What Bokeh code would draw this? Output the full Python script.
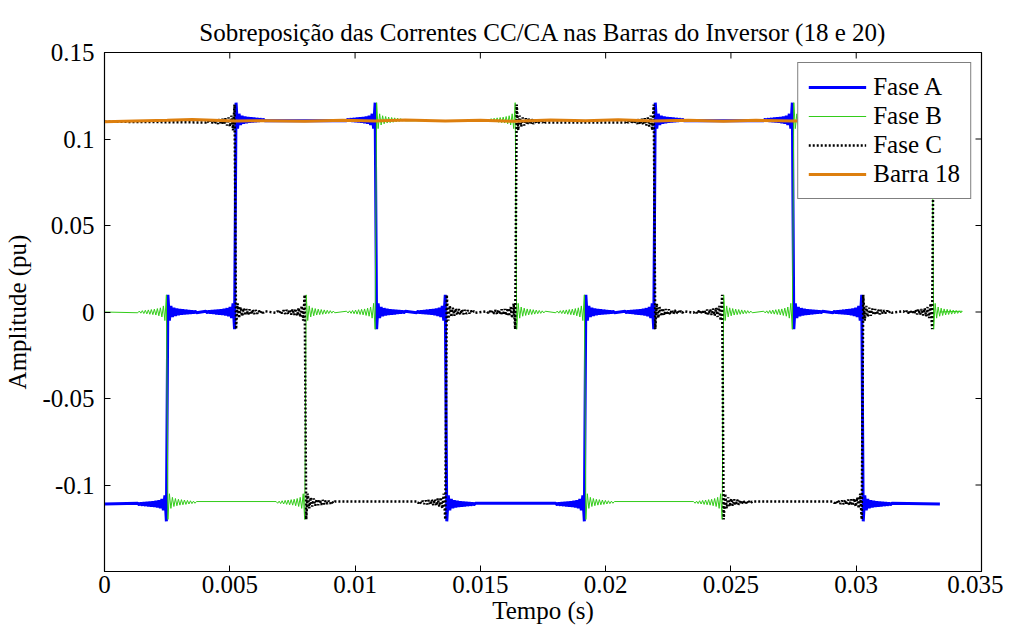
import math
from bokeh.plotting import figure
from bokeh.models import FixedTicker, Range1d, Legend, LegendItem
from bokeh.embed import file_html
from bokeh.resources import INLINE

# ---------------- data ----------------
title_text = "Sobreposição das Correntes CC/CA nas Barras do Inversor (18 e 20)"
x_label = "Tempo (s)"
y_label = "Amplitude (pu)"

x_ticks = [0, 0.005, 0.01, 0.015, 0.02, 0.025, 0.03, 0.035]
x_tick_labels = ["0", "0.005", "0.01", "0.015", "0.02", "0.025", "0.03", "0.035"]
y_ticks = [-0.1, -0.05, 0, 0.05, 0.1, 0.15]
y_tick_labels = ["-0.1", "-0.05", "0", "0.05", "0.1", "0.15"]

# commutation instants (s) and end of record
t_switch = [0.00250, 0.00522, 0.00802, 0.01083, 0.01363, 0.01642,
            0.01918, 0.02195, 0.02468, 0.02748, 0.03025, 0.03306]
t_end = 0.03334

# current level of each phase between commutations (pu)
fase_a = [-0.111, 0.0, 0.111, 0.111, 0.0, -0.111, -0.111, 0.0, 0.111, 0.111, 0.0, -0.111, -0.111]
fase_b = [0.0, -0.110, -0.110, 0.0, 0.111, 0.111, 0.0, -0.110, -0.110, 0.0, 0.111, 0.111, 0.0]
fase_c = [0.110, 0.110, 0.0, -0.110, -0.110, 0.0, 0.110, 0.110, 0.0, -0.110, -0.110, 0.0, 0.110]

# ringing around each step (fraction of the step), half-period spacing
ring_frac = [0.09, -0.045, 0.032, -0.026, 0.022, -0.020, 0.018, -0.016, 0.015, -0.014,
             0.013, -0.012, 0.011, -0.010, 0.009, -0.008, 0.007, -0.006, 0.005, -0.004]
ring_dt = 0.00006

# DC current at bus 18
barra18_t = [0, 0.0012, 0.0025, 0.0035, 0.0052, 0.0065, 0.0080, 0.0095, 0.0108, 0.0120,
             0.0136, 0.0150, 0.0164, 0.0178, 0.0192, 0.0205, 0.0219, 0.0233, 0.0247, 0.0260,
             0.0275, 0.0290, 0.0303, 0.0318, 0.0333]
barra18_v = [0.1100, 0.1104, 0.1108, 0.1112, 0.1104, 0.1106, 0.1102, 0.1108, 0.1104, 0.1110,
             0.1104, 0.1108, 0.1102, 0.1110, 0.1106, 0.1111, 0.1104, 0.1108, 0.1102, 0.1108,
             0.1104, 0.1108, 0.1104, 0.1108, 0.1104]

FONT = "Liberation Serif"
FS = "25px"
X_MIN, X_MAX = 0, 0.035
Y_MIN, Y_MAX = -0.15, 0.15


def build(levels):
    ts, vs = [0.0], [levels[0]]
    for i, t0 in enumerate(t_switch):
        old, new = levels[i], levels[i + 1]
        d = new - old
        if d == 0:
            continue
        for k in reversed(range(len(ring_frac))):
            ts.append(t0 - (k + 0.5) * ring_dt)
            vs.append(old - ring_frac[k] * d)
        for k in range(len(ring_frac)):
            ts.append(t0 + (k + 0.5) * ring_dt)
            vs.append(new + ring_frac[k] * d)
    ts.append(t_end)
    vs.append(levels[-1])
    return ts, vs


p = figure(width=1003, height=627, output_backend="svg", toolbar_location=None,
           x_range=Range1d(X_MIN, X_MAX), y_range=Range1d(Y_MIN, Y_MAX),
           min_border_left=104, min_border_right=22, min_border_top=52, min_border_bottom=56)

p.title.text = title_text
p.title.text_font = FONT
p.title.text_font_size = FS
p.title.text_font_style = "normal"
p.title.text_color = "black"
p.title.align = "center"
p.title.standoff = 14

p.grid.visible = False
p.outline_line_color = "black"
p.outline_line_width = 1.2

for ax in (p.xaxis[0], p.yaxis[0]):
    ax.major_tick_in = 6
    ax.major_tick_out = 0
    ax.minor_tick_in = 0
    ax.minor_tick_out = 0
    ax.axis_line_color = "black"
    ax.major_tick_line_color = "black"
    ax.major_label_text_font = FONT
    ax.major_label_text_font_size = FS
    ax.major_label_text_color = "black"
    ax.axis_label_text_font = FONT
    ax.axis_label_text_font_size = FS
    ax.axis_label_text_font_style = "normal"
    ax.axis_label_text_color = "black"

p.xaxis[0].ticker = FixedTicker(ticks=x_ticks)
p.xaxis[0].major_label_overrides = dict(zip(x_ticks, x_tick_labels))
p.xaxis[0].axis_label = x_label
p.xaxis[0].major_label_standoff = 4
p.xaxis[0].axis_label_standoff = 1

p.yaxis[0].ticker = FixedTicker(ticks=y_ticks)
p.yaxis[0].major_label_overrides = dict(zip(y_ticks, y_tick_labels))
p.yaxis[0].axis_label = y_label
p.yaxis[0].major_label_standoff = 10
p.yaxis[0].axis_label_standoff = 8

# mirrored tick marks on the top and right edges of the box (clipped to the frame)
p.scatter(x_ticks, [Y_MAX] * len(x_ticks), marker="dash", size=12, angle=math.pi / 2,
          line_color="black", line_width=1)
p.scatter([X_MAX] * len(y_ticks), y_ticks, marker="dash", size=12,
          line_color="black", line_width=1)

ta, va = build(fase_a)
tb, vb = build(fase_b)
tc, vc = build(fase_c)

ra = p.line(ta, va, line_color="#0000FF", line_width=3)
rb = p.line(tb, vb, line_color="#33CC1A", line_width=1)
rc = p.line(tc, vc, line_color="black", line_width=2.5, line_dash="2 2")
rd = p.line(barra18_t, barra18_v, line_color="#DD7F0E", line_width=3)

legend = Legend(items=[LegendItem(label="Fase A", renderers=[ra]),
                       LegendItem(label="Fase B", renderers=[rb]),
                       LegendItem(label="Fase C", renderers=[rc]),
                       LegendItem(label="Barra 18", renderers=[rd])],
                location="top_right")
legend.margin = 10
legend.padding = 10
legend.spacing = 1
legend.glyph_width = 58
legend.glyph_height = 28
legend.label_height = 28
legend.label_standoff = 7
legend.label_text_font = FONT
legend.label_text_font_size = FS
legend.label_text_color = "black"
legend.border_line_color = "black"
legend.border_line_width = 1.2
legend.background_fill_alpha = 1
p.add_layout(legend, "center")

open("out.html", "w").write(file_html(p, INLINE))
